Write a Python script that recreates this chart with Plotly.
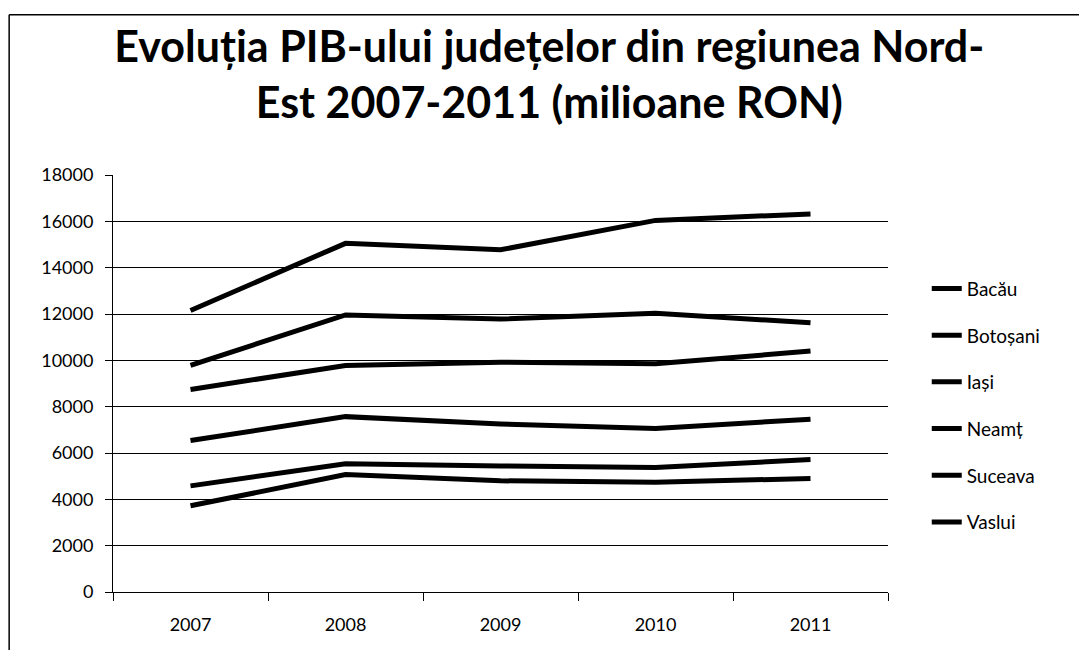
"""Evolutia PIB-ului judetelor din regiunea Nord-Est 2007-2011"""
import plotly.graph_objects as go

years = ["2007", "2008", "2009", "2010", "2011"]

bacau = [9780, 11960, 11780, 12030, 11620]
botosani = [4580, 5540, 5440, 5370, 5720]
iasi = [12150, 15050, 14770, 16040, 16320]
neamt = [6540, 7570, 7250, 7060, 7460]
suceava = [8740, 9780, 9920, 9850, 10400]
vaslui = [3720, 5070, 4800, 4740, 4900]

series = [
    ("Bacău", bacau),
    ("Botoșani", botosani),
    ("Iași", iasi),
    ("Neamț", neamt),
    ("Suceava", suceava),
    ("Vaslui", vaslui),
]

FONT = "Lato"

fig = go.Figure()
for name, vals in series:
    fig.add_trace(go.Scatter(
        x=years, y=vals, name=name, mode="lines",
        legendgroup=name,
        line=dict(color="black", width=5),
    ))

fig.update_layout(
    width=1087, height=650,
    paper_bgcolor="white", plot_bgcolor="white",
    margin=dict(l=105, r=207, t=167, b=66),
    title=dict(
        text="<b>Evoluția PIB-ului județelor din regiunea Nord-<br>Est 2007-2011 (milioane RON)</b>",
        x=0.498, xanchor="center", y=0.917, yanchor="top",
        font=dict(family=FONT, size=43, color="black"),
    ),
    font=dict(family=FONT, size=18, color="black"),
    legend=dict(
        x=1.05, xanchor="left", y=0.447, yanchor="middle",
        font=dict(family=FONT, size=19, color="black"),
        tracegroupgap=19, bgcolor="rgba(0,0,0,0)",
    ),
    showlegend=True,
)

fig.update_xaxes(
    type="category", tickson="boundaries", range=[-0.5, 4.5],
    showline=True, linecolor="black", linewidth=1,
    ticks="outside", ticklen=8, tickcolor="black",
    showgrid=False, tickfont=dict(size=18), ticklabelstandoff=16,
)
fig.update_yaxes(
    range=[0, 18000], dtick=2000, tickformat="d",
    showline=True, linecolor="black", linewidth=1,
    ticks="outside", ticklen=7, tickcolor="black",
    showgrid=True, gridcolor="black", gridwidth=1,
    zeroline=False, tickfont=dict(size=18), ticklabelstandoff=8,
)

# outer chart frame (top and left edges as in the scan)
fig.add_shape(type="line", xref="paper", yref="paper",
              x0=-0.134, x1=1.3, y0=1.384, y1=1.384,
              line=dict(color="black", width=1.5))
fig.add_shape(type="line", xref="paper", yref="paper",
              x0=-0.134, x1=-0.134, y0=1.384, y1=-0.2,
              line=dict(color="black", width=1.5))

fig.write_html("out.html")
